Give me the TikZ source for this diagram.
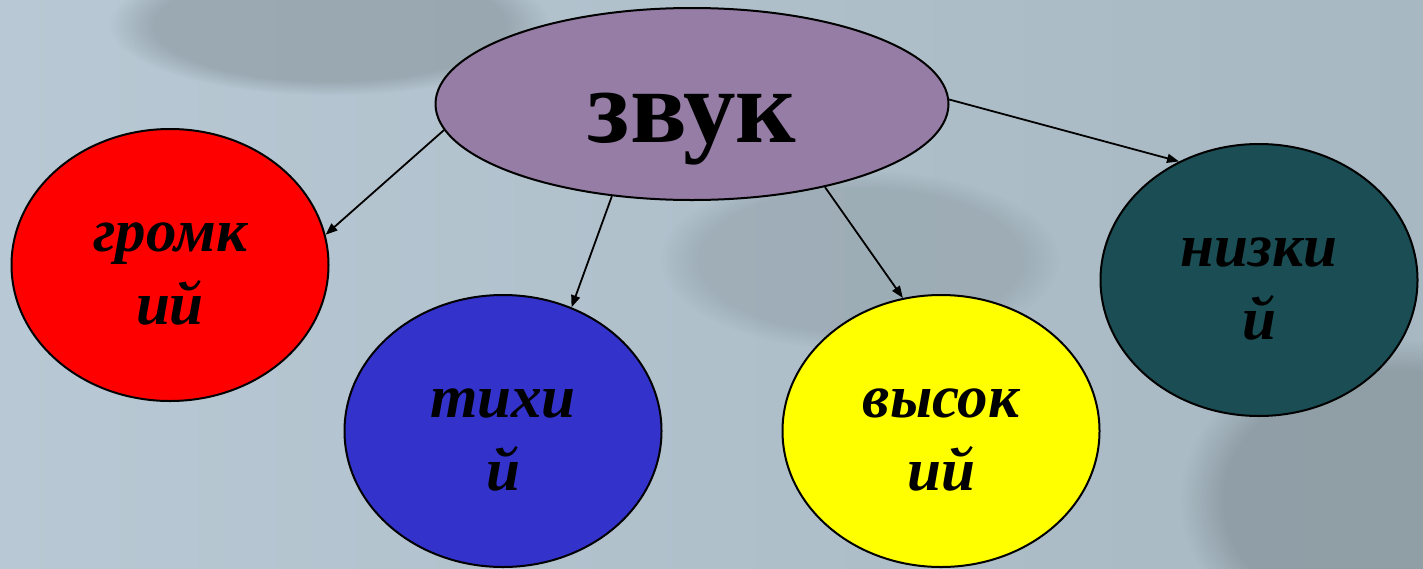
\documentclass[tikz,border=0pt]{standalone}
\usepackage{fontspec}
\setmainfont{Liberation Serif}
\usetikzlibrary{arrows.meta,shapes.geometric,fadings}
\definecolor{bgleft}{RGB}{184,200,212}
\definecolor{bgright}{RGB}{168,184,194}
\definecolor{bgdark}{RGB}{128,142,148}
\definecolor{zvukpurple}{RGB}{150,125,166}
\definecolor{gromred}{RGB}{255,0,0}
\definecolor{tihblue}{RGB}{51,51,204}
\definecolor{vysyellow}{RGB}{255,255,0}
\definecolor{nizteal}{RGB}{27,77,84}

\begin{document}
\begin{tikzpicture}[x=1pt, y=-1pt,
    root style/.style={ellipse, draw, line width=2pt, fill=zvukpurple,
        minimum width=513pt, minimum height=192pt, inner sep=0pt,
        font=\fontsize{105}{110}\selectfont\bfseries, text height=76pt, text depth=0pt},
    leaf style/.style={ellipse, draw, line width=2pt, minimum width=317pt,
        minimum height=272pt, inner sep=0pt, align=center,
        font=\fontsize{61}{73}\selectfont\bfseries\itshape,
        text height=118pt, text depth=0pt},
    link style/.style={-{Triangle[length=12pt,width=9pt]}, line width=1.8pt}
]
\useasboundingbox (0,0) rectangle (1423,568);
% background
\begin{scope}
\clip (0,0) rectangle (1423,568);
\shade[left color=bgleft, right color=bgright] (0,0) rectangle (1423,568);
\fill[bgdark, opacity=0.5, path fading=circle with fuzzy edge 20 percent]
    (330,25) ellipse (220 and 70);
\fill[bgdark, opacity=0.35, path fading=circle with fuzzy edge 20 percent]
    (860,260) ellipse (200 and 90);
\fill[bgdark, opacity=0.6, path fading=circle with fuzzy edge 20 percent]
    (1400,500) ellipse (220 and 160);
\end{scope}

% nodes
\node[root style] (zvuk) at (692,104) {звук};
\node[leaf style, fill=gromred] (gromkij) at (170,265) {громк\\ий};
\node[leaf style, fill=tihblue] (tihij) at (503,431) {тихи\\й};
\node[leaf style, fill=vysyellow] (vysokij) at (941,431) {высок\\ий};
\node[leaf style, fill=nizteal] (nizkij) at (1259,280) {низки\\й};

% links
\draw[link style] (zvuk.186) -- (gromkij.11);
\draw[link style] (zvuk.229) -- (tihij.61);
\draw[link style] (zvuk.328) -- (vysokij.106);
\draw[link style] (zvuk.1) -- (nizkij.124);
\end{tikzpicture}
\end{document}
